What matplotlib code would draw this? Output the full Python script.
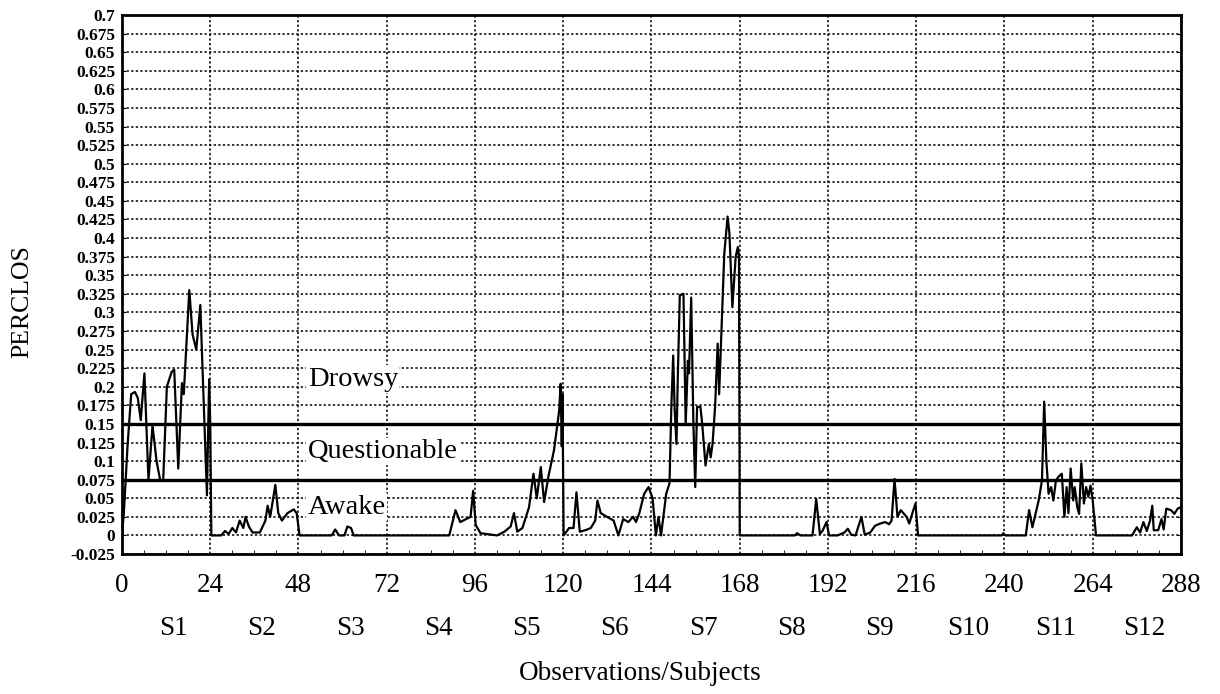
import numpy as np
import matplotlib
matplotlib.use("Agg")
import matplotlib.pyplot as plt
from matplotlib.ticker import MultipleLocator

plt.rcParams['font.family'] = ['Liberation Serif', 'DejaVu Serif']

obs = [0, 0.5, 1.5, 2.5, 3.5, 4.3, 5.1, 6.1, 7.2, 8.3, 9.4, 10.4, 11.2, 12.2, 13.5, 14.2,
       15.3, 16.3, 16.8, 18.3, 19.2, 20.2, 21.3, 23.1, 23.7, 24.0, 24.3,
       27, 28, 29, 30, 31, 32, 33, 33.6, 34.5, 35.5, 37.5, 39, 39.6, 40.3, 41.7, 42.5,
       43.5, 45, 46.7, 47.5, 48.3,
       57, 58, 59, 60.5, 61.3, 62.3, 63,
       89, 90.7, 92, 94.8, 95.5, 96.2, 97.5,
       102, 104, 105.7, 106.6, 107.5, 108.9, 110.7, 111.9, 112.8, 113.9, 114.8, 116,
       117.5, 118.9, 119.3, 119.6, 119.8, 120.1,
       121.6, 122.8, 123.6, 124.5, 126, 127.5, 128.7, 129.3, 130.2, 131.9, 133.7, 135,
       136.3, 137.7, 139, 139.8, 140.7, 142, 143.2, 144.3, 145.2, 145.9, 146.6, 147.1,
       148, 148.9,
       149.4, 149.9, 150.3, 150.8, 151.1, 151.7, 152.7, 153.3, 153.9, 154.2, 154.8,
       155.4, 155.9, 156.4, 157.3, 157.8, 158.7, 159.6, 160.1, 160.6, 161.3, 162, 162.4,
       162.9, 163.8, 164.7, 165.2, 166, 166.9, 167.5, 167.8, 168.0,
       183, 183.6, 184.5, 187.8, 188.8, 189.8, 190.5, 191.6, 192.3, 194.6, 196.5, 197.4,
       198.3, 199.5, 201.1, 202, 203.5, 204.8, 206.2, 207.6, 208.6, 209.3, 210.1, 210.9,
       211.8, 212.7, 213.4, 214.1, 214.9, 215.8, 216.5,
       239.2, 239.7, 240.2,
       245.8, 246.7, 247.6, 249.3, 250.2, 250.8, 251.4, 252, 252.7, 253.3, 254, 254.7,
       255.6, 256.3, 256.9, 257.4, 258, 258.7, 259.1, 259.8, 260.3, 260.9, 261.6, 262.2,
       262.8, 263.4, 264, 264.9,
       274.7, 276, 276.9, 277.8, 278.7, 279.6, 280.2, 280.6, 281.8, 282.7, 283.3, 284,
       285.3, 286.2, 287.1, 288]

perclos = [0.0, 0.03, 0.12, 0.19, 0.193, 0.185, 0.155, 0.218, 0.074, 0.148, 0.1, 0.074, 0.074, 0.2, 0.22, 0.223,
           0.09, 0.205, 0.19, 0.33, 0.27, 0.25, 0.31, 0.054, 0.21, 0.15, 0.0,
           0.0, 0.006, 0.002, 0.01, 0.004, 0.02, 0.01, 0.025, 0.012, 0.004, 0.004, 0.02, 0.04, 0.025, 0.068, 0.03,
           0.02, 0.03, 0.035, 0.03, 0.0,
           0.0, 0.008, 0.0, 0.0, 0.012, 0.01, 0.0,
           0.0, 0.034, 0.018, 0.025, 0.06, 0.014, 0.003,
           0.0, 0.005, 0.012, 0.03, 0.005, 0.01, 0.038, 0.083, 0.05, 0.092, 0.045, 0.08,
           0.115, 0.168, 0.204, 0.12, 0.19, 0.0,
           0.01, 0.01, 0.058, 0.005, 0.007, 0.01, 0.02, 0.047, 0.03, 0.025, 0.02, 0.0,
           0.022, 0.018, 0.025, 0.018, 0.03, 0.056, 0.065, 0.05, 0.0, 0.025, 0.0, 0.02,
           0.056, 0.07,
           0.173, 0.242, 0.17, 0.123, 0.2, 0.323, 0.325, 0.15, 0.235, 0.218, 0.32,
           0.15, 0.065, 0.173, 0.173, 0.15, 0.094, 0.123, 0.105, 0.123, 0.173, 0.258, 0.19,
           0.258, 0.379, 0.429, 0.406, 0.307, 0.375, 0.388, 0.375, 0.0,
           0.0, 0.003, 0.0, 0.0, 0.049, 0.002, 0.006, 0.018, 0.0, 0.0, 0.004, 0.009,
           0.001, 0.0, 0.025, 0.001, 0.004, 0.013, 0.016, 0.018, 0.015, 0.02, 0.076, 0.025,
           0.034, 0.029, 0.025, 0.016, 0.029, 0.043, 0.0,
           0.0, 0.003, 0.0,
           0.0, 0.034, 0.011, 0.047, 0.074, 0.18, 0.1, 0.056, 0.065, 0.047, 0.074, 0.079,
           0.083, 0.025, 0.065, 0.03, 0.09, 0.047, 0.065, 0.038, 0.029, 0.097, 0.043, 0.065,
           0.052, 0.067, 0.047, 0.0,
           0.0, 0.011, 0.004, 0.018, 0.006, 0.02, 0.04, 0.007, 0.007, 0.022, 0.008, 0.036,
           0.034, 0.029, 0.036, 0.038]

x_ticks = [0, 24, 48, 72, 96, 120, 144, 168, 192, 216, 240, 264, 288]
y_ticks = [round(-0.025 + 0.025 * i, 3) for i in range(30)]
y_labels = ['-0.025', '0', '0.025', '0.05', '0.075', '0.1', '0.125', '0.15', '0.175', '0.2',
            '0.225', '0.25', '0.275', '0.3', '0.325', '0.35', '0.375', '0.4', '0.425', '0.45',
            '0.475', '0.5', '0.525', '0.55', '0.575', '0.6', '0.625', '0.65', '0.675', '0.7']
subjects = ['S1', 'S2', 'S3', 'S4', 'S5', 'S6', 'S7', 'S8', 'S9', 'S10', 'S11', 'S12']
thresholds = [0.075, 0.15]
zones = ['Drowsy', 'Questionable', 'Awake']
zone_y = [0.21, 0.113, 0.038]

fig = plt.figure(figsize=(12.2, 6.94), dpi=100)
ax = fig.add_axes([0.1, 0.2017, 0.868, 0.7766])

ax.set_xlim(0, 288)
ax.set_ylim(-0.025, 0.7)

ax.set_yticks(y_ticks)
ax.set_yticklabels(y_labels, fontsize=12.5, fontweight='bold')
ax.set_xticks(x_ticks)
ax.set_xticklabels([str(t) for t in x_ticks], fontsize=19.5)
ax.xaxis.set_minor_locator(MultipleLocator(6))
ax.tick_params(axis='both', which='both', direction='in', top=False, right=True)
ax.tick_params(axis='y', length=3, pad=5)
ax.tick_params(axis='x', which='major', length=0, pad=14)
ax.tick_params(axis='x', which='minor', length=3)

ax.grid(True, which='major', linestyle=(0, (1.5, 1.5)), color='black', linewidth=1.1)
for s in ax.spines.values():
    s.set_linewidth(2)

for t in thresholds:
    ax.axhline(t, color='black', linewidth=2.4, zorder=3)

ax.plot(obs, perclos, color='black', linewidth=1.6, zorder=4)

for name, yv in zip(zones, zone_y):
    ax.text(50.5, yv, name, fontsize=20.5, ha='left', va='center', zorder=5,
            bbox=dict(facecolor='white', edgecolor='none', pad=1))

for i, s in enumerate(subjects):
    ax.text(14 + 24 * i, -0.125, s, fontsize=19.5, ha='center', va='center',
            transform=ax.transData, clip_on=False)

fig.text(0.018, 0.565, 'PERCLOS', fontsize=18.5, rotation=90, ha='center', va='center')
fig.text(0.525, 0.03, 'Observations/Subjects', fontsize=19.5, ha='center', va='center')

fig.savefig('out.png', dpi=100)
